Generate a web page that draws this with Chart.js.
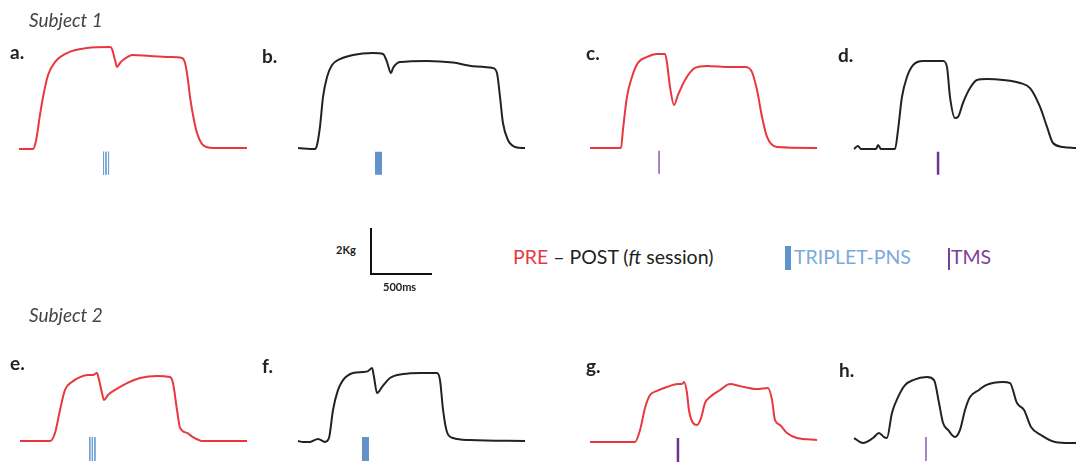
<!DOCTYPE html>
<html>
<head>
<meta charset="utf-8">
<script src="https://cdn.jsdelivr.net/npm/chart.js@4.4.0/dist/chart.umd.min.js"></script>
<style>
  body { margin: 0; background: #fff; }
  #fig { position: relative; width: 1076px; height: 463px; overflow: hidden; font-family: Lato, "Open Sans", sans-serif; }
  canvas { position: absolute; }
  .txt { position: absolute; white-space: nowrap; line-height: 1; }
  .lab { font-weight: bold; font-size: 19px; color: #222; }
  .subj { font-style: italic; font-size: 19px; color: #444; }
  .leg { font-size: 19.5px; }
  .small { font-weight: bold; font-size: 11px; color: #222; }
  .bar { position: absolute; }
</style>
</head>
<body>
<div id="fig">
  <div class="txt subj" style="left:29px;top:10px">Subject 1</div>
  <div class="txt subj" style="left:29px;top:305px">Subject 2</div>

  <div class="txt lab" style="left:10px;top:42px">a.</div>
  <div class="txt lab" style="left:262px;top:46px">b.</div>
  <div class="txt lab" style="left:586px;top:43px">c.</div>
  <div class="txt lab" style="left:838px;top:45px">d.</div>
  <div class="txt lab" style="left:10px;top:353px">e.</div>
  <div class="txt lab" style="left:262px;top:356px">f.</div>
  <div class="txt lab" style="left:586px;top:356px">g.</div>
  <div class="txt lab" style="left:839px;top:360px">h.</div>

  <div class="txt small" style="left:336px;top:244px">2Kg</div>
  <div class="txt small" style="left:383px;top:281px">500ms</div>

  <div class="txt leg" style="left:513px;top:247px;color:#222"><span style="color:#e8383d">PRE</span> – POST (<i>ft</i> session)</div>
  <div class="bar" style="left:785px;top:246px;width:6px;height:24px;background:#5f93cc"></div>
  <div class="txt leg" style="left:794px;top:247px;color:#7aaadc">TRIPLET-PNS</div>
  <div class="bar" style="left:948px;top:248px;width:2px;height:22px;background:#7b3f98"></div>
  <div class="txt leg" style="left:951px;top:247px;color:#7b3f98">TMS</div>
</div>
<script>
// time in ms from trace start, force in kg above baseline
const aTime  = [0, 115, 139, 172, 197, 238, 295, 393, 557, 746, 762, 787, 803, 828, 852, 934, 1074, 1238, 1336, 1361, 1385, 1402, 1434, 1459, 1508, 1590, 1869];
const aForce = [0, 0, 0.35, 1.48, 2.26, 3.22, 3.78, 4.17, 4.39, 4.43, 4.35, 3.87, 3.57, 3.74, 3.87, 4.09, 4.04, 4.0, 3.96, 3.74, 3.0, 2.26, 1.26, 0.7, 0.17, 0.04, 0.04];

const bTime  = [0, 139, 156, 180, 205, 238, 279, 344, 451, 615, 697, 730, 762, 779, 836, 1057, 1271, 1435, 1598, 1631, 1656, 1680, 1721, 1779, 1861];
const bForce = [0.04, 0, 0.17, 0.96, 2.26, 3.13, 3.65, 3.91, 4.09, 4.17, 4.13, 3.78, 3.3, 3.52, 3.78, 3.83, 3.76, 3.6, 3.52, 3.3, 2.26, 1.13, 0.39, 0.09, 0.04];

const cTime  = [0, 254, 270, 303, 344, 393, 467, 549, 615, 631, 656, 689, 721, 779, 861, 959, 1148, 1271, 1328, 1369, 1410, 1451, 1533, 1861];
const cForce = [0, 0, 0.78, 2.22, 3.09, 3.7, 3.96, 4.09, 4.09, 3.7, 2.65, 1.87, 2.3, 2.96, 3.48, 3.57, 3.52, 3.52, 3.3, 2.52, 1.35, 0.48, 0.04, 0];

const dTime  = [0, 33, 57, 180, 197, 221, 336, 361, 393, 434, 484, 566, 730, 762, 787, 828, 852, 893, 951, 1008, 1090, 1221, 1361, 1443, 1525, 1582, 1631, 1713, 1820];
const dForce = [0, 0.13, 0, 0, 0.17, 0, 0, 0.83, 2.26, 3.13, 3.65, 3.83, 3.83, 3.57, 2.26, 1.35, 1.39, 2.0, 2.65, 3.0, 3.04, 3.0, 2.87, 2.65, 1.83, 0.96, 0.26, 0.09, 0.04];

const eTime  = [0, 246, 287, 328, 369, 426, 492, 557, 598, 631, 648, 672, 689, 721, 779, 877, 984, 1123, 1230, 1254, 1287, 1312, 1369, 1418, 1500, 1861];
const eForce = [0, 0, 0.35, 1.35, 2.22, 2.57, 2.78, 2.87, 2.87, 2.96, 2.65, 2.09, 1.78, 2.0, 2.22, 2.52, 2.74, 2.83, 2.78, 2.52, 1.35, 0.57, 0.35, 0.17, 0, 0];

const fTime  = [0, 41, 98, 164, 221, 254, 287, 328, 369, 451, 533, 574, 607, 623, 648, 689, 754, 861, 1000, 1139, 1164, 1189, 1221, 1271, 1410, 1861];
const fForce = [0, -0.04, -0.04, 0.09, -0.04, 0.13, 1.35, 2.22, 2.65, 2.96, 3.0, 3.04, 3.17, 2.78, 2.09, 2.35, 2.74, 2.91, 2.96, 2.96, 2.65, 1.35, 0.39, 0.13, 0.04, 0];

const gTime  = [0, 369, 410, 451, 492, 549, 631, 721, 754, 771, 795, 811, 844, 877, 910, 943, 984, 1066, 1148, 1230, 1369, 1459, 1492, 1516, 1557, 1615, 1697, 1861];
const gForce = [0, 0, 0.52, 1.48, 2.04, 2.22, 2.39, 2.52, 2.52, 2.61, 2.13, 1.39, 0.83, 0.74, 1.04, 1.7, 1.96, 2.26, 2.52, 2.43, 2.3, 2.35, 1.83, 0.96, 0.74, 0.39, 0.17, 0.09];

const hTime  = [0, 74, 156, 205, 246, 270, 311, 361, 418, 484, 598, 656, 697, 730, 771, 828, 869, 910, 951, 1025, 1082, 1221, 1279, 1336, 1394, 1451, 1533, 1648, 1820];
const hForce = [0.13, -0.09, 0.13, 0.35, 0.17, 0.13, 1.22, 1.91, 2.43, 2.65, 2.78, 2.65, 1.65, 0.78, 0.48, 0.17, 0.48, 1.35, 1.91, 2.22, 2.43, 2.57, 2.52, 1.65, 1.35, 0.61, 0.26, -0.04, -0.09];

// stimulus times (ms)
const pnsA = [693, 713, 734];
const pnsB = [660];
const tmsC = [566];
const tmsD = [689];
const pnsE = [572, 593, 614];
const pnsF = [553];
const tmsG = [721];
const tmsH = [590];

// marker extent (kg), top row and bottom row
const markTop1 = [-0.12, -1.12];
const markTop2 = [0.17, -0.87];

// scale bar: 500 ms, 2 kg
const scaleTime = [0, 0, 500];
const scaleForce = [2, 0, 0];

const RED = "#e8383d";
const BLACK = "#222222";
const PX_PER_MS = 61 / 500;
const PX_PER_KG = 46 / 2;

const fig = document.getElementById("fig");

function pts(ts, ys) {
  return ts.map((t, i) => ({ x: t, y: ys[i] }));
}

function markerSets(times, ext, color, width) {
  return times.map((t) => ({
    data: [{ x: t, y: ext[0] }, { x: t, y: ext[1] }],
    borderColor: color,
    borderWidth: width,
    borderCapStyle: "butt",
    pointRadius: 0,
  }));
}

function makeChart(left, top, w, h, x0, y0, datasets) {
  const c = document.createElement("canvas");
  c.width = w;
  c.height = h;
  c.style.left = left + "px";
  c.style.top = top + "px";
  fig.insertBefore(c, fig.firstChild);
  new Chart(c.getContext("2d"), {
    type: "line",
    data: { datasets },
    options: {
      responsive: false,
      animation: false,
      events: [],
      layout: { padding: 0 },
      plugins: { legend: { display: false }, tooltip: { enabled: false } },
      elements: { point: { radius: 0 } },
      scales: {
        x: { type: "linear", display: false, min: (left - x0) / PX_PER_MS, max: (left + w - x0) / PX_PER_MS },
        y: { type: "linear", display: false, min: (y0 - top - h) / PX_PER_KG, max: (y0 - top) / PX_PER_KG },
      },
    },
  });
}

// one force trace panel
function panel(x0, base, ts, ys, color, markers) {
  const left = x0 - 8;
  const top = base - 125;
  const w = Math.round(ts[ts.length - 1] * PX_PER_MS) + 16;
  const trace = {
    data: pts(ts, ys),
    borderColor: color,
    borderWidth: 2,
    cubicInterpolationMode: "monotone",
    pointRadius: 0,
  };
  makeChart(left, top, w, 160, x0, base, [trace].concat(markers));
}

panel(19, 149, aTime, aForce, RED, markerSets(pnsA, markTop1, "#6d9fd6", 1));
panel(298, 149, bTime, bForce, BLACK, markerSets(pnsB, markTop1, "#6493c8", 7));
panel(590, 148, cTime, cForce, RED, markerSets(tmsC, markTop1, "#8a5bb0", 1.5));
panel(854, 149, dTime, dForce, BLACK, markerSets(tmsD, markTop1, "#6a3591", 2.5));
panel(20, 441, eTime, eForce, RED, markerSets(pnsE, markTop2, "#6d9fd6", 1));
panel(298, 441, fTime, fForce, BLACK, markerSets(pnsF, markTop2, "#6493c8", 7));
panel(590, 442, gTime, gForce, RED, markerSets(tmsG, markTop2, "#6a3591", 2.5));
panel(854, 441, hTime, hForce, BLACK, markerSets(tmsH, markTop2, "#8a5bb0", 1.5));

// scale bar
makeChart(361, 215, 90, 70, 371, 274, [{
  data: pts(scaleTime, scaleForce),
  borderColor: "#111",
  borderWidth: 2,
  borderCapStyle: "butt",
  borderJoinStyle: "miter",
  pointRadius: 0,
}]);
</script>
</body>
</html>
